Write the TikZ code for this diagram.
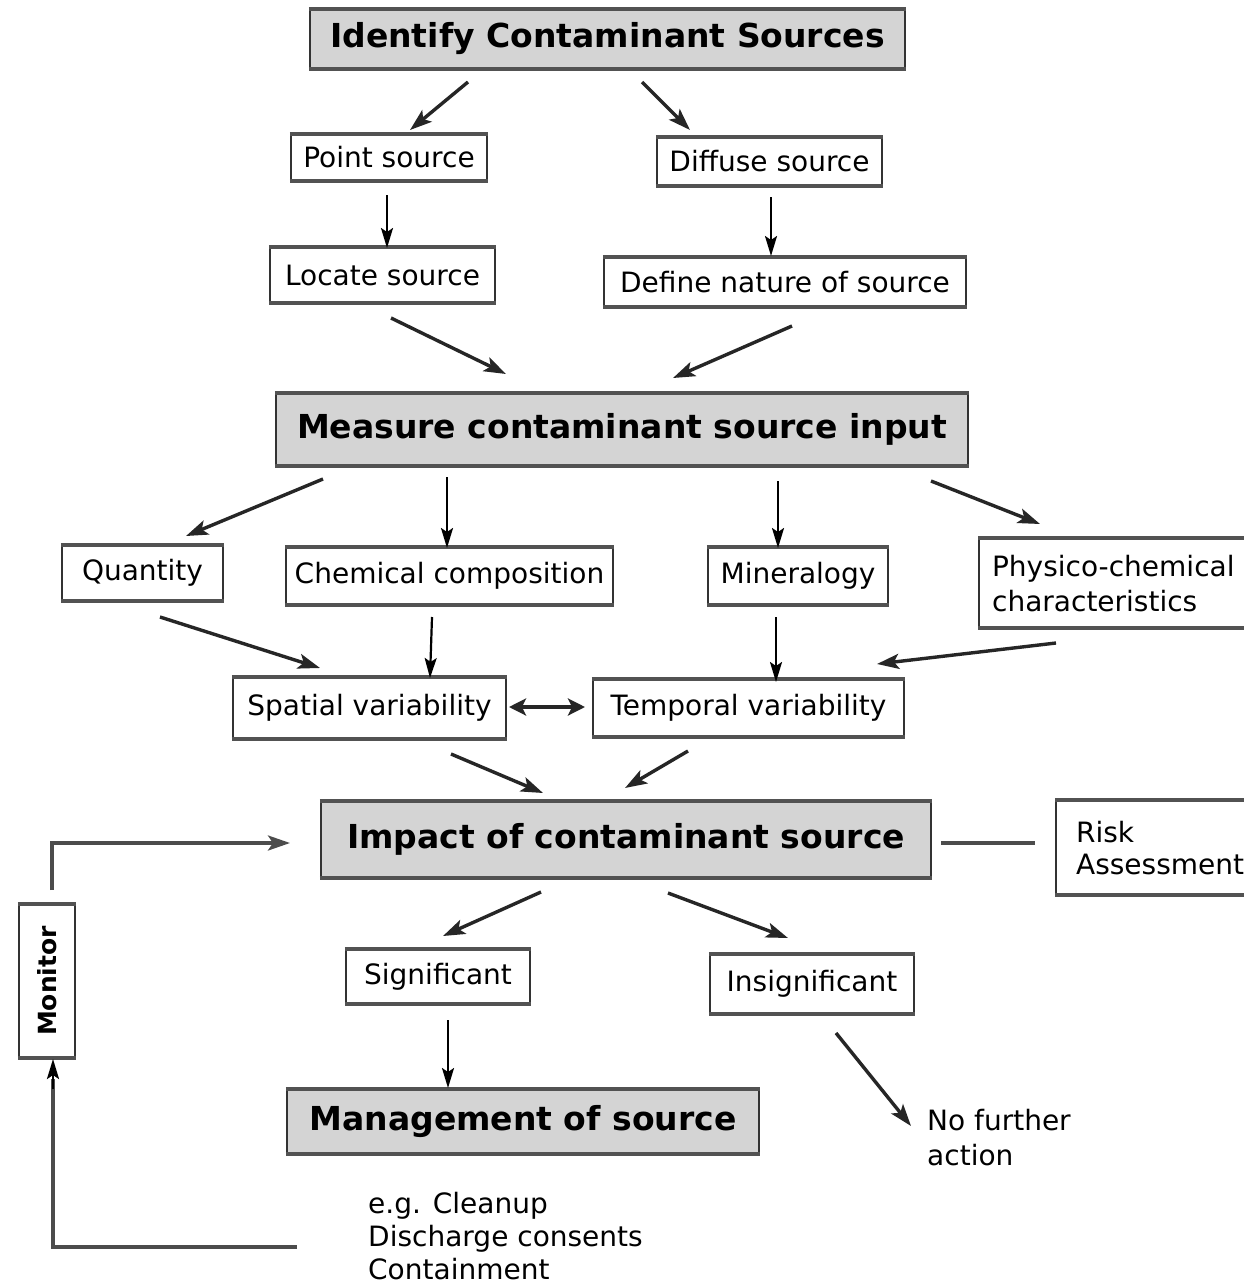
\documentclass[tikz,border=0pt]{standalone}
\usepackage{fontspec}
\setmainfont{DejaVu Sans}
\usetikzlibrary{arrows.meta}
\newcommand\regf{\fontsize{28}{35}\selectfont}
\newcommand\boldf{\fontsize{33}{38}\selectfont\bfseries}
\begin{document}
\begin{tikzpicture}[x=1pt,y=-1pt,
  bx/.style={draw=black!80, line width=2.2pt, fill=white, inner sep=0pt, font=\regf},
  hd/.style={bx, fill=black!17, font=\boldf},
  edgeln/.style={draw=black!68, line width=4.5pt},
  txt/.style={inner sep=0pt, font=\regf, align=left},
  arr/.style={-{Stealth[length=22pt,width=15pt,inset=5pt]}, line width=3.4pt, black!85},
  varr/.style={-{Stealth[length=20pt,width=12pt,inset=4pt]}, line width=2.2pt, black},
  dbl/.style={{Stealth[length=17pt,width=17pt,inset=4pt]}-{Stealth[length=17pt,width=17pt,inset=4pt]}, line width=4.5pt, black!85},
  loopl/.style={line width=3.4pt, black!70},
]
\useasboundingbox[fill=white] (0,0) rectangle (1243,1287);

% nodes
\node[hd, minimum width=595, minimum height=58] (id) at (607.5,39) {Identify Contaminant Sources};
\node[bx, minimum width=196, minimum height=45] (ps) at (389,157.5) {Point source};
\node[bx, minimum width=225, minimum height=47] (ds) at (769.5,161.5) {Diffuse source};
\node[bx, minimum width=225, minimum height=54] (ls) at (382.5,275) {Locate source};
\node[bx, minimum width=362, minimum height=48] (dn) at (785,282) {Define nature of source};
\node[hd, minimum width=692, minimum height=71] (ms) at (622,429.5) {Measure contaminant source input};
\node[bx, minimum width=161, minimum height=54] (qu) at (142.5,573) {Quantity};
\node[bx, minimum width=327, minimum height=56] (cc) at (449.5,576) {Chemical composition};
\node[bx, minimum width=180, minimum height=56] (mi) at (798,576) {Mineralogy};
\node[bx, anchor=north west, text width=260, align=left, inner xsep=13pt, minimum height=88] (pc) at (978,538) {Physico-chemical\\characteristics};
\node[bx, minimum width=273, minimum height=60] (sv) at (369.5,708) {Spatial variability};
\node[bx, minimum width=311, minimum height=56] (tv) at (748.5,708) {Temporal variability};
\node[hd, minimum width=610, minimum height=75] (im) at (626,839.5) {Impact of contaminant source};
\node[bx, anchor=north west, text width=175, align=left, inner xsep=20pt, minimum height=93, font=\fontsize{28}{32}\selectfont] (ra) at (1055,800) {Risk\\Assessment};
\node[bx, rotate=90, minimum width=152, minimum height=56, font=\fontsize{25}{30}\selectfont\bfseries] (mon) at (47,981) {Monitor};
\node[bx, minimum width=184, minimum height=53] (sg) at (438,976.5) {Significant};
\node[bx, minimum width=204, minimum height=58] (is) at (812,984) {Insignificant};
\node[hd, minimum width=472, minimum height=63] (mg) at (523,1121.5) {Management of source};
\node[txt, anchor=west] (nf) at (927,1138) {No further\\action};
\node[txt, anchor=west, font=\fontsize{28}{33}\selectfont] (eg) at (368,1236) {e.g. Cleanup\\Discharge consents\\Containment};

% thicker top and bottom borders
\foreach \n in {id,ps,ds,ls,dn,ms,qu,cc,mi,pc,sv,tv,im,ra,sg,is,mg}
  \draw[edgeln] (\n.north west) -- (\n.north east) (\n.south west) -- (\n.south east);
\draw[edgeln, line width=3.4pt] (mon.north east) -- (mon.south east) (mon.north west) -- (mon.south west);

% connector end points
\coordinate (c1s) at (468,82);   \coordinate (c1e) at (410,130);
\coordinate (c2s) at (642,82);   \coordinate (c2e) at (690,130);
\coordinate (c3s) at (387,195);  \coordinate (c3e) at (387,248);
\coordinate (c4s) at (771,197);  \coordinate (c4e) at (771,256);
\coordinate (c5s) at (391,318);  \coordinate (c5e) at (506,374);
\coordinate (c6s) at (792,326);  \coordinate (c6e) at (673,378);
\coordinate (c7s) at (323,479);  \coordinate (c7e) at (186,536);
\coordinate (c8s) at (447,477);  \coordinate (c8e) at (447,548);
\coordinate (c9s) at (778,481);  \coordinate (c9e) at (778,548);
\coordinate (c10s) at (931,481); \coordinate (c10e) at (1040,524);
\coordinate (c11s) at (160,617); \coordinate (c11e) at (320,668);
\coordinate (c12s) at (432,617); \coordinate (c12e) at (430,678);
\coordinate (c13s) at (776,617); \coordinate (c13e) at (776,682);
\coordinate (c14s) at (1056,643); \coordinate (c14e) at (877,664);
\coordinate (c15s) at (451,754); \coordinate (c15e) at (543,793);
\coordinate (c16s) at (688,751); \coordinate (c16e) at (625,788);
\coordinate (c17s) at (541,892); \coordinate (c17e) at (443,936);
\coordinate (c18s) at (668,893); \coordinate (c18e) at (788,938);
\coordinate (c19s) at (448,1020); \coordinate (c19e) at (448,1088);
\coordinate (c20s) at (836,1033); \coordinate (c20e) at (911,1126);
\coordinate (svr) at (509,707);  \coordinate (tvl) at (585,707);
\coordinate (mtop) at (52,890);  \coordinate (imin) at (290,843);
\coordinate (rl1) at (941,843);  \coordinate (rl2) at (1035,843);
\coordinate (eglf) at (297,1247); \coordinate (mbot) at (53,1059);

% connectors
\draw[arr] (c1s) -- (c1e);
\draw[arr] (c2s) -- (c2e);
\draw[varr] (c3s) -- (c3e);
\draw[varr] (c4s) -- (c4e);
\draw[arr] (c5s) -- (c5e);
\draw[arr] (c6s) -- (c6e);
\draw[arr] (c7s) -- (c7e);
\draw[varr] (c8s) -- (c8e);
\draw[varr] (c9s) -- (c9e);
\draw[arr] (c10s) -- (c10e);
\draw[arr] (c11s) -- (c11e);
\draw[varr] (c12s) -- (c12e);
\draw[varr] (c13s) -- (c13e);
\draw[arr] (c14s) -- (c14e);
\draw[dbl] (svr) -- (tvl);
\draw[arr] (c15s) -- (c15e);
\draw[arr] (c16s) -- (c16e);
\draw[arr] (c17s) -- (c17e);
\draw[arr] (c18s) -- (c18e);
\draw[varr] (c19s) -- (c19e);
\draw[arr] (c20s) -- (c20e);
\draw[loopl, -{Stealth[length=22pt,width=15pt,inset=5pt]}] (mtop) |- (imin);
\draw[line width=4.5pt, black!70] (rl1) -- (rl2);
\draw[loopl] (eglf) -| ([yshift=-20pt]mbot);
\draw[varr, line width=2.6pt] ([yshift=-30pt]mbot) -- (mbot);
\end{tikzpicture}
\end{document}
